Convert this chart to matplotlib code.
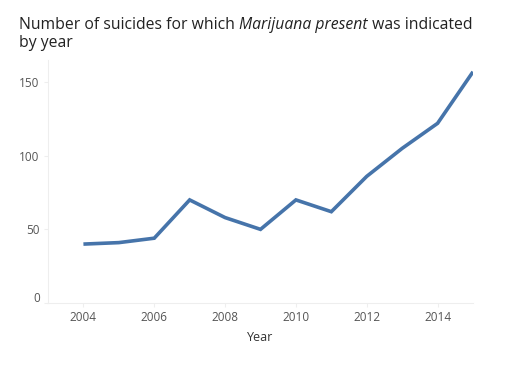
import matplotlib
matplotlib.use("Agg")
import matplotlib.pyplot as plt
import matplotlib.transforms as mtransforms

years = [2004, 2005, 2006, 2007, 2008, 2009, 2010, 2011, 2012, 2013, 2014, 2015]
suicides = [40, 41, 44, 70, 58, 50, 70, 62, 86, 105, 122, 157]
xticks = [2004, 2006, 2008, 2010, 2012, 2014]
yticks = [0, 50, 100, 150]

plt.rcParams["font.family"] = ["Open Sans", "DejaVu Sans"]

fig = plt.figure(figsize=(5.05, 3.68), dpi=100)
ax = fig.add_axes([48 / 505, 1 - 303 / 368, 425 / 505, 243 / 368])

ax.plot(years, suicides, color="#4674aa", lw=2.6, solid_joinstyle="miter",
        solid_capstyle="butt")
ax.set_xlim(2003, 2015)
ax.set_ylim(0, 165)
ax.set_xticks(xticks)
ax.set_yticks(yticks)

for s in ["top", "right"]:
    ax.spines[s].set_visible(False)
for s in ["left", "bottom"]:
    ax.spines[s].set_color("#eeeeee")
    ax.spines[s].set_linewidth(0.8)
ax.tick_params(colors="#eeeeee", labelcolor="#555555", labelsize=8.5,
               length=3, width=0.8, pad=3)
ax.set_xlabel("Year", fontsize=9, color="#333333", labelpad=5)

# tableau nudges the zero label up so it stays inside
lbl0 = ax.get_yticklabels()[0]
lbl0.set_transform(lbl0.get_transform() +
                   mtransforms.ScaledTranslation(0, 6 / 100, fig.dpi_scale_trans))

# title with an italic part
fig.canvas.draw()
r = fig.canvas.get_renderer()
tsize = 11.3
x0, y0 = 19 / 505, 1 - 29 / 368
parts = [("Number of suicides for which ", "normal"),
         ("Marijuana present", "italic"),
         (" was indicated", "normal")]
x = x0
for txt, style in parts:
    t = fig.text(x, y0, txt, fontsize=tsize, style=style, color="#222222",
                 va="baseline", ha="left")
    bb = t.get_window_extent(renderer=r)
    x += bb.width / fig.bbox.width
fig.text(x0, 1 - 47 / 368, "by year", fontsize=tsize, color="#222222",
         va="baseline", ha="left")

fig.savefig("out.png", dpi=100)
